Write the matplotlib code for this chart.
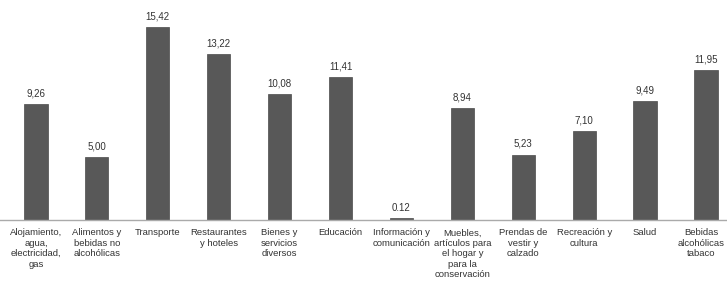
import matplotlib
matplotlib.use("Agg")
import matplotlib.pyplot as plt
from matplotlib.transforms import ScaledTranslation

categories = [
    "Alojamiento,\nagua,\nelectricidad,\ngas",
    "Alimentos y\nbebidas no\nalcohólicas",
    "Transporte",
    "Restaurantes\ny hoteles",
    "Bienes y\nservicios\ndiversos",
    "Educación",
    "Información y\ncomunicación",
    "Muebles,\nartículos para\nel hogar y\npara la\nconservación",
    "Prendas de\nvestir y\ncalzado",
    "Recreación y\ncultura",
    "Salud",
    "Bebidas\nalcohólicas\ntabaco",
]
values = [9.26, 5.00, 15.42, 13.22, 10.08, 11.41, 0.12, 8.94, 5.23, 7.10, 9.49, 11.95]
value_labels = ["9,26", "5,00", "15,42", "13,22", "10,08", "11,41", "0.12", "8,94",
                "5,23", "7,10", "9,49", "11,95"]

plt.rcParams['font.family'] = ['Liberation Sans', 'DejaVu Sans']

fig = plt.figure(figsize=(7.27, 2.86), dpi=100)
ax = fig.add_axes([0.0, 66/286, 1.0, 220/286])

x = list(range(len(values)))
ax.bar(x, values, width=0.38, color="#585858", edgecolor="#4a4a4a", linewidth=0.5)

for xi, v, lab in zip(x, values, value_labels):
    ax.annotate(lab, (xi, v), xytext=(0, 4), textcoords="offset points",
                ha="center", va="bottom", fontsize=7, color="#333333")

ax.set_xlim(-0.59, 11.345)
ax.set_ylim(0, 17.57)
ax.set_xticks(x)
ax.set_xticklabels(categories, fontsize=6.8, color="#333333", linespacing=1.2)
ax.tick_params(axis="x", length=0, pad=6)
last = ax.get_xticklabels()[-1]
last.set_transform(last.get_transform() + ScaledTranslation(-5/100, 0, fig.dpi_scale_trans))
ax.set_yticks([])
for s in ["top", "right", "left"]:
    ax.spines[s].set_visible(False)
ax.spines["bottom"].set_color("#aaaaaa")
ax.spines["bottom"].set_linestyle((0, (1, 1)))
ax.spines["bottom"].set_linewidth(1.0)

fig.savefig("out.png", dpi=100)
